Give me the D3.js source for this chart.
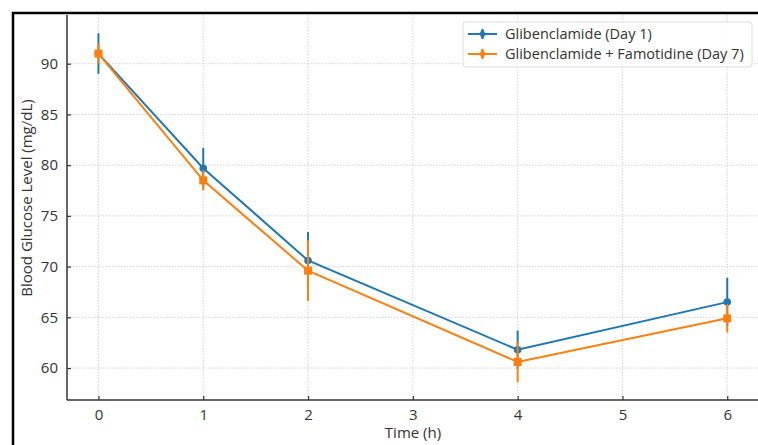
<!DOCTYPE html>
<html>
<head>
<meta charset="utf-8">
<script src="https://cdn.jsdelivr.net/npm/d3@7"></script>
<style>
  html, body { margin: 0; padding: 0; background: #fff; }
  svg text { font-family: "Open Sans", "DejaVu Sans", sans-serif; }
</style>
</head>
<body>
<div id="root"></div>
<script>
const SVG_WIDTH = 758;
const SVG_HEIGHT = 445;

// data
const times = [0, 1, 2, 4, 6];
const day1Mean = [91.0, 79.7, 70.6, 61.8, 66.5];
const day1Err = [2.0, 2.0, 2.8, 1.9, 2.4];
const day7Mean = [91.0, 78.5, 69.6, 60.6, 64.9];
const day7Err = [1.0, 1.0, 3.0, 2.0, 1.4];
const xTicks = [0, 1, 2, 3, 4, 5, 6];
const yTicks = [60, 65, 70, 75, 80, 85, 90];
const seriesNames = ['Glibenclamide (Day 1)', 'Glibenclamide + Famotidine (Day 7)'];

const BLUE = '#1f77b4';
const ORANGE = '#ff7f0e';

const margin = { left: 67, top: 15, right: 0, bottom: 45 };

/**
 * add svg container
 */
function addSvg() {
  const svg = document.createElementNS('http://www.w3.org/2000/svg', 'svg');
  svg.id = 'svg';
  svg.setAttribute('width', SVG_WIDTH);
  svg.setAttribute('height', SVG_HEIGHT);
  return svg;
}

function main() {
  const svg = d3.select('#svg');
  const xScale = d3.scaleLinear().domain([-0.3, 6.3]).range([margin.left, margin.left + 6.6 * 104.8]);
  const yScale = d3.scaleLinear().domain([56.85, 94.8]).range([SVG_HEIGHT - margin.bottom, margin.top]);
  const x0 = margin.left;
  const y0 = SVG_HEIGHT - margin.bottom;

  // grid
  const grid = svg.append('g');
  grid.selectAll('line.gx').data(xTicks).join('line')
    .attr('x1', (d) => xScale(d)).attr('x2', (d) => xScale(d))
    .attr('y1', margin.top).attr('y2', y0)
    .attr('stroke', '#c8c8c8').attr('stroke-width', 0.8).attr('stroke-dasharray', '1.5,1.5');
  grid.selectAll('line.gy').data(yTicks).join('line')
    .attr('x1', x0).attr('x2', SVG_WIDTH)
    .attr('y1', (d) => yScale(d)).attr('y2', (d) => yScale(d))
    .attr('stroke', '#c8c8c8').attr('stroke-width', 0.8).attr('stroke-dasharray', '1.5,1.5');

  // axes
  const xAxis = d3.axisBottom(xScale).tickValues(xTicks).tickFormat(d3.format('d'))
    .tickSizeInner(-4).tickSizeOuter(0).tickPadding(9);
  const gx = svg.append('g').attr('transform', `translate(0,${y0})`).call(xAxis);
  const yAxis = d3.axisLeft(yScale).tickValues(yTicks).tickFormat(d3.format('d'))
    .tickSizeInner(-4).tickSizeOuter(0).tickPadding(9);
  const gy = svg.append('g').attr('transform', `translate(${x0},0)`).call(yAxis);
  [gx, gy].forEach((g) => {
    g.select('.domain').remove();
    g.selectAll('.tick line').attr('stroke', '#333').attr('stroke-width', 1.2);
    g.selectAll('.tick text').attr('fill', '#333').style('font-size', '15px');
  });
  svg.append('line').attr('x1', x0).attr('x2', SVG_WIDTH).attr('y1', y0).attr('y2', y0)
    .attr('stroke', '#333').attr('stroke-width', 1.5);
  svg.append('line').attr('x1', x0).attr('x2', x0).attr('y1', margin.top).attr('y2', y0)
    .attr('stroke', '#333').attr('stroke-width', 1.5);

  // axis labels
  svg.append('text').attr('x', 413).attr('y', 438).attr('text-anchor', 'middle')
    .attr('fill', '#333').style('font-size', '15px').text('Time (h)');
  svg.append('text').attr('transform', 'translate(32,198) rotate(-90)')
    .attr('text-anchor', 'middle').attr('fill', '#333').style('font-size', '15px')
    .text('Blood Glucose Level (mg/dL)');

  const series = [
    { mean: day1Mean, err: day1Err, color: BLUE, marker: 'circle' },
    { mean: day7Mean, err: day7Err, color: ORANGE, marker: 'square' },
  ];
  const line = d3.line().x((d) => xScale(d.t)).y((d) => yScale(d.v));

  series.forEach((s) => {
    const pts = times.map((t, i) => ({ t, v: s.mean[i], e: s.err[i] }));
    const g = svg.append('g');
    g.selectAll('line.err').data(pts).join('line')
      .attr('x1', (d) => xScale(d.t)).attr('x2', (d) => xScale(d.t))
      .attr('y1', (d) => yScale(d.v - d.e)).attr('y2', (d) => yScale(d.v + d.e))
      .attr('stroke', s.color).attr('stroke-width', 2);
    g.append('path').datum(pts).attr('d', line)
      .attr('fill', 'none').attr('stroke', s.color).attr('stroke-width', 2);
    if (s.marker === 'circle') {
      g.selectAll('circle').data(pts).join('circle')
        .attr('cx', (d) => xScale(d.t)).attr('cy', (d) => yScale(d.v)).attr('r', 3.8)
        .attr('fill', s.color);
    } else {
      g.selectAll('rect').data(pts).join('rect')
        .attr('x', (d) => xScale(d.t) - 4).attr('y', (d) => yScale(d.v) - 4)
        .attr('width', 8).attr('height', 8).attr('fill', s.color);
    }
  });

  // legend
  const lg = svg.append('g').attr('transform', 'translate(463,22)');
  lg.append('rect').attr('width', 289).attr('height', 45).attr('rx', 3)
    .attr('fill', '#fff').attr('fill-opacity', 0.85).attr('stroke', '#ddd').attr('stroke-width', 1);
  series.forEach((s, i) => {
    const ly = 12 + i * 20;
    lg.append('line').attr('x1', 5).attr('x2', 34).attr('y1', ly).attr('y2', ly)
      .attr('stroke', s.color).attr('stroke-width', 2);
    lg.append('line').attr('x1', 19.5).attr('x2', 19.5).attr('y1', ly - 5).attr('y2', ly + 5)
      .attr('stroke', s.color).attr('stroke-width', 2);
    lg.append('path').attr('d', d3.symbol(d3.symbolDiamond, 34)())
      .attr('transform', `translate(19.5,${ly})`).attr('fill', s.color);
    lg.append('text').attr('x', 42).attr('y', ly + 5).attr('fill', '#333')
      .style('font-size', '14.5px').text(seriesNames[i]);
  });

  // outer frame
  svg.append('path').attr('d', `M13,${SVG_HEIGHT} V13 H${SVG_WIDTH}`)
    .attr('fill', 'none').attr('stroke', '#000').attr('stroke-width', 2.5);
}

const root = document.getElementById('root');
root.appendChild(addSvg());
main();
</script>
</body>
</html>
